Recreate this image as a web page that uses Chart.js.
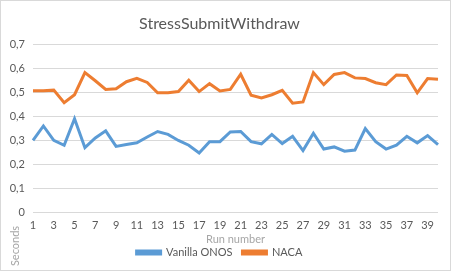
<!DOCTYPE html>
<html>
<head>
<meta charset="utf-8">
<script src="https://cdn.jsdelivr.net/npm/chart.js@4/dist/chart.umd.min.js"></script>
<style>
  html, body { margin: 0; padding: 0; background: #fff; }
  #wrap { width: 449px; height: 269px; border: 1px solid #d9d9d9; position: relative; }
</style>
</head>
<body>
<div id="wrap"><canvas id="chart" width="449" height="269"></canvas></div>
<script>
// Datos
const runNumbers = Array.from({ length: 40 }, (_, i) => String(i + 1));
const vanillaOnos = [0.30, 0.36, 0.30, 0.28, 0.39, 0.27, 0.31, 0.34, 0.275, 0.283,
    0.29, 0.314, 0.337, 0.325, 0.30, 0.28, 0.248, 0.295, 0.295, 0.335,
    0.337, 0.295, 0.286, 0.325, 0.287, 0.317, 0.258, 0.33, 0.264, 0.273,
    0.255, 0.26, 0.349, 0.295, 0.264, 0.28, 0.317, 0.29, 0.32, 0.283];
const naca = [0.506, 0.506, 0.509, 0.457, 0.49, 0.582, 0.548, 0.512, 0.515, 0.544,
    0.558, 0.541, 0.498, 0.498, 0.503, 0.55, 0.503, 0.536, 0.506, 0.512,
    0.575, 0.488, 0.477, 0.49, 0.508, 0.455, 0.46, 0.582, 0.532, 0.574,
    0.582, 0.56, 0.557, 0.54, 0.532, 0.572, 0.57, 0.498, 0.557, 0.554];

const FONT = 'Lato, "Open Sans", sans-serif';
const GREY = '#595959';

// Título del eje Y colocado abajo a la izquierda, como en el original
const secondsLabel = {
    id: 'secondsLabel',
    afterDraw(chart) {
        const ctx = chart.ctx;
        ctx.save();
        ctx.translate(14, 245);
        ctx.rotate(-Math.PI / 2);
        ctx.font = '11px ' + FONT;
        ctx.fillStyle = '#a6a6a6';
        ctx.textAlign = 'center';
        ctx.textBaseline = 'middle';
        ctx.fillText('Seconds', 0, 0);
        ctx.restore();
    }
};

const chart = new Chart(document.getElementById('chart'), {
    type: 'line',
    data: {
        labels: runNumbers,
        datasets: [{
            label: 'Vanilla ONOS',
            data: vanillaOnos,
            borderColor: '#5B9BD5',
            backgroundColor: '#5B9BD5',
            borderWidth: 3,
            pointRadius: 0,
            tension: 0
        }, {
            label: 'NACA',
            data: naca,
            borderColor: '#ED7D31',
            backgroundColor: '#ED7D31',
            borderWidth: 3,
            pointRadius: 0,
            tension: 0
        }]
    },
    options: {
        responsive: false,
        animation: false,
        layout: { padding: { left: 0, right: 12, top: 0, bottom: 2 } },
        plugins: {
            title: {
                display: true,
                text: 'StressSubmitWithdraw',
                color: GREY,
                font: { family: FONT, size: 16, weight: 'normal' },
                padding: { top: 13, bottom: 11 }
            },
            legend: {
                position: 'bottom',
                labels: {
                    color: GREY,
                    font: { family: FONT, size: 11 },
                    boxWidth: 24,
                    boxHeight: 3,
                    padding: 10
                }
            },
            tooltip: { enabled: false }
        },
        scales: {
            x: {
                grid: { display: false, drawTicks: false },
                border: { display: false },
                ticks: {
                    color: GREY,
                    font: { family: FONT, size: 11 },
                    autoSkip: false,
                    maxRotation: 0,
                    padding: 6,
                    callback: (v, i) => (i % 2 === 0 ? runNumbers[i] : '')
                },
                title: {
                    display: true,
                    text: 'Run number',
                    color: '#a6a6a6',
                    font: { family: FONT, size: 11 },
                    padding: { top: -5, bottom: -9 }
                }
            },
            y: {
                min: 0,
                max: 0.7,
                border: { display: false },
                grid: { color: '#d9d9d9', drawTicks: false },
                afterFit: scale => { scale.width = 32; },
                ticks: {
                    stepSize: 0.1,
                    color: GREY,
                    font: { family: FONT, size: 11 },
                    padding: 8,
                    callback: v => String(Math.round(v * 10) / 10).replace('.', ',')
                }
            }
        }
    },
    plugins: [secondsLabel]
});
</script>
</body>
</html>
